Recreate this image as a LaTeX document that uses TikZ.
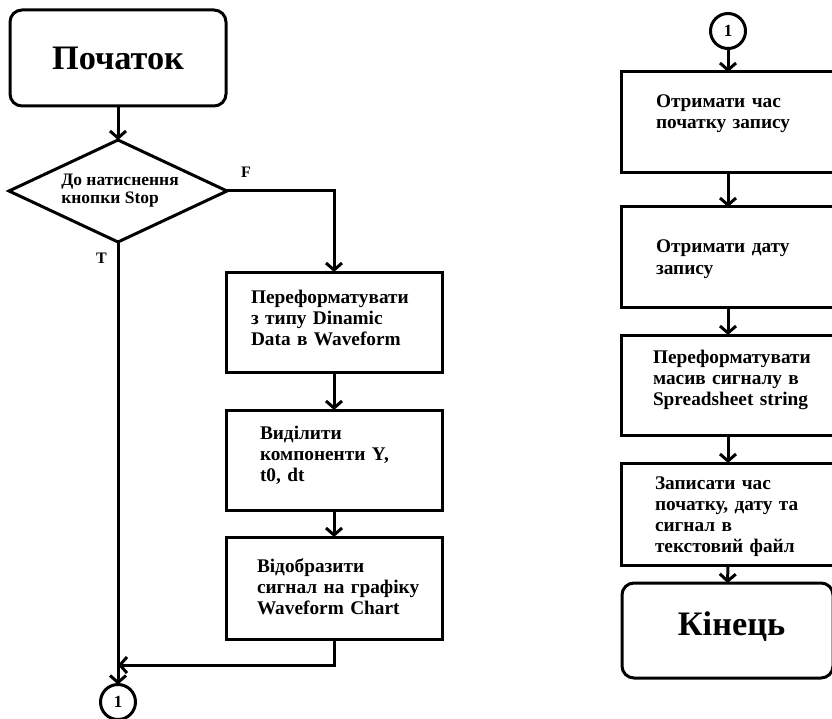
\documentclass[tikz,border=0pt]{standalone}
\usepackage{fontspec}
\setmainfont{Liberation Serif}
\usetikzlibrary{shapes.geometric,arrows.meta}
\begin{document}
\begin{tikzpicture}[x=1pt,y=-1pt,
  every node/.style={inner sep=0pt, outer sep=0pt},
  blk/.style={draw, line width=3pt, rectangle, minimum width=216pt, minimum height=100pt},
  rblk/.style={draw, line width=3pt, rectangle, rounded corners=12pt, font=\bfseries\fontsize{34.3}{38}\selectfont},
  dia/.style={draw, line width=3pt, diamond, aspect=2.137, minimum width=218pt, minimum height=102pt, align=left, font=\bfseries\fontsize{17.5}{18}\selectfont},
  txt/.style={font=\bfseries\fontsize{19.3}{21}\selectfont, align=left, text width=220pt, anchor=base west},
  lbl/.style={font=\bfseries\fontsize{16}{18}\selectfont, anchor=base west},
  con/.style={draw, line width=3pt, circle, minimum size=35pt, font=\bfseries\fontsize{17}{19}\selectfont},
  conn/.style={line width=3pt, -{Straight Barb[length=7pt,width=16pt]}}
]
\clip (0,0) rectangle (832,719);
\fill[white] (0,0) rectangle (832,719);

% left column
\node[rblk, minimum width=216pt, minimum height=96pt] (start) at (118,58) {Початок};
\node[dia] (d) at (118,191) {\hspace*{4pt}До натиснення\\\hspace*{4pt}кнопки Stop};
\node[lbl] (F) at (241,178) {F};
\node[lbl] (T) at (96,263) {T};
\node[blk] (L1) at (334,322) {};
\node[blk] (L2) at (334,460) {};
\node[blk, minimum height=102pt] (L3) at (334,588) {};
\node[txt] (tL1) at (251,303) {Переформатувати\\з типу Dinamic\\Data в Waveform};
\node[txt] (tL2) at (260,439) {Виділити\\компоненти Y,\\t0, dt};
\node[txt] (tL3) at (257,572) {Відобразити\\сигнал на графіку\\Waveform Chart};
\node[con] (c1) at (118,702) {1};
\coordinate (join) at (118,665);

\draw[conn] (start.south) -- (d.north);
\draw[conn] (d.east) -| (L1.north);
\draw[conn] (L1.south) -- (L2.north);
\draw[conn] (L2.south) -- (L3.north);
\draw[conn] (L3.south) |- (join);
\draw[conn] (d.south) -- (c1.north);

% right column
\node[con] (c2) at (728,31) {1};
\node[blk, minimum width=214pt, minimum height=101pt] (R1) at (728,122.5) {};
\node[blk, minimum width=214pt] (R2) at (728,257) {};
\node[blk, minimum width=214pt] (R3) at (728,385) {};
\node[blk, minimum width=214pt, minimum height=102pt] (R4) at (728,514) {};
\node[rblk, minimum width=211pt, minimum height=95pt, text height=23pt, text depth=13pt] (end) at (727.5,630.5) {\hspace*{8pt}Кінець};
\node[txt] (tR1) at (656,108) {Отримати час\\початку запису};
\node[txt] (tR2) at (656,253) {Отримати дату\\запису};
\node[txt] (tR3) at (653,363) {Переформатувати\\масив сигналу в\\Spreadsheet string};
\node[txt] (tR4) at (655,489) {Записати час\\початку, дату та\\сигнал в\\текстовий файл};

\draw[conn] (c2.south) -- (R1.north);
\draw[conn] (R1.south) -- (R2.north);
\draw[conn] (R2.south) -- (R3.north);
\draw[conn] (R3.south) -- (R4.north);
\draw[conn] (R4.south) -- (end.north);
\end{tikzpicture}
\end{document}
